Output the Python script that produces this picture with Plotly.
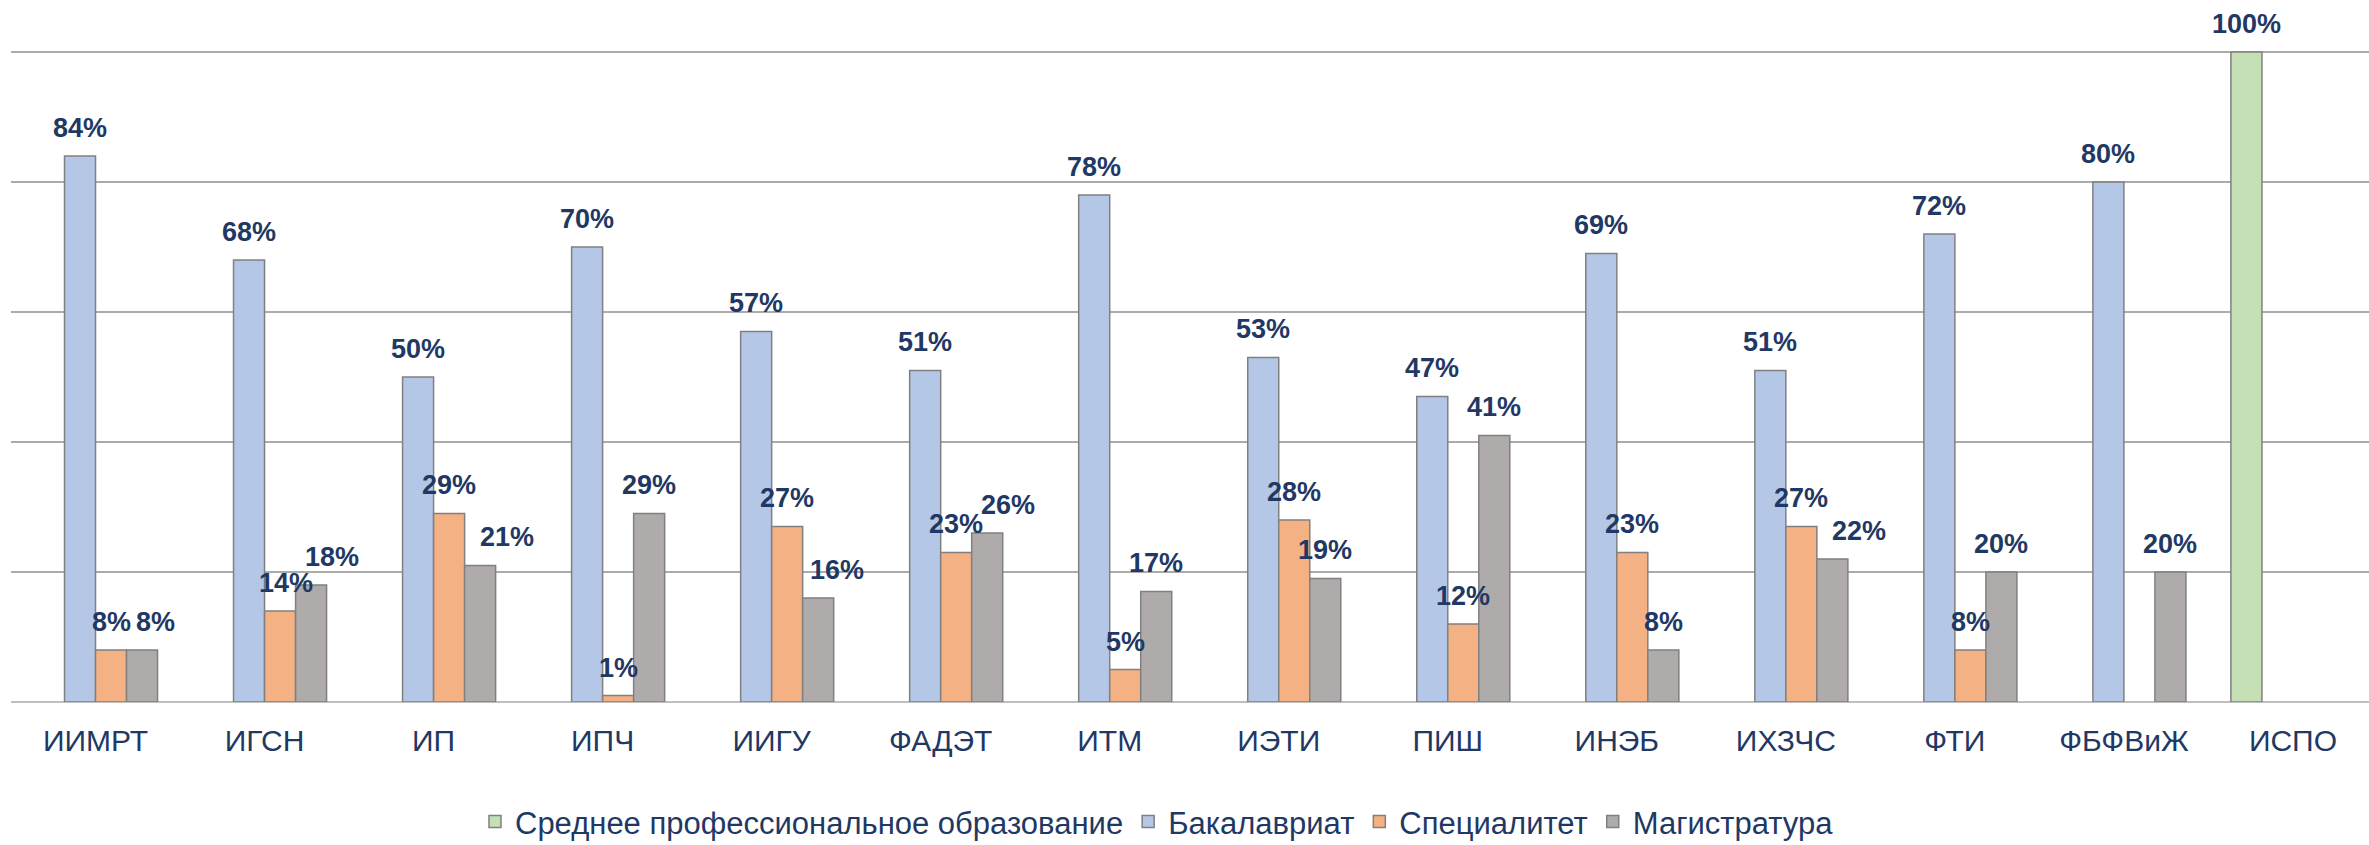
import plotly.graph_objects as go

categories = ["ИИМРТ", "ИГСН", "ИП", "ИПЧ", "ИИГУ", "ФАДЭТ", "ИТМ", "ИЭТИ", "ПИШ",
              "ИНЭБ", "ИХЗЧС", "ФТИ", "ФБФВиЖ", "ИСПО"]
spo = [None, None, None, None, None, None, None, None, None, None, None, None, None, 1.00]
bakalavriat = [0.84, 0.68, 0.50, 0.70, 0.57, 0.51, 0.78, 0.53, 0.47, 0.69, 0.51, 0.72, 0.80, None]
specialitet = [0.08, 0.14, 0.29, 0.01, 0.27, 0.23, 0.05, 0.28, 0.12, 0.23, 0.27, 0.08, None, None]
magistratura = [0.08, 0.18, 0.21, 0.29, 0.16, 0.26, 0.17, 0.19, 0.41, 0.08, 0.22, 0.20, 0.20, None]

# horizontal nudges (px) of some value labels, as placed in the original
label_nudge_spec = [0, 6, 0, 0, 0, 0, 0, 0, 0, 0, 0, 0, 0, 0]
label_nudge_mag = [13, 21, 27, 0, 19, 21, 0, 0, 0, 0, 27, 0, 0, 0]

series = [
    ("Среднее профессиональное образование", spo, "#C5E0B4", None),
    ("Бакалавриат", bakalavriat, "#B4C7E7", None),
    ("Специалитет", specialitet, "#F4B183", label_nudge_spec),
    ("Магистратура", magistratura, "#AFABAB", label_nudge_mag),
]

FONT = "Arial, Liberation Sans, sans-serif"
NAVY = "#1F3864"
BARGAP = 0.266
NS = len(series)

fig = go.Figure()
annotations = []
for i, (name, vals, color, nudge) in enumerate(series):
    fig.add_trace(go.Bar(
        name=name, x=categories, y=vals,
        marker=dict(color=color, line=dict(color="#808080", width=1.5)),
    ))
    slot = (i - (NS - 1) / 2) * (1 - BARGAP) / NS
    for j, v in enumerate(vals):
        if v is None:
            continue
        annotations.append(dict(
            x=j + slot, y=v, xref="x", yref="y", text=f"{round(v * 100)}%",
            showarrow=False, yanchor="bottom", xanchor="center",
            xshift=(nudge[j] if nudge else 0), yshift=11,
            font=dict(family=FONT, size=27, color=NAVY, weight="bold"),
        ))

fig.update_layout(
    width=2369, height=845,
    margin=dict(l=11, r=0, t=50, b=143, autoexpand=False),
    paper_bgcolor="white", plot_bgcolor="white",
    barmode="group", bargap=BARGAP, bargroupgap=0,
    font=dict(family=FONT, color=NAVY),
    showlegend=True,
    annotations=annotations,
    legend=dict(orientation="h", x=0.486, xanchor="center", y=-0.184, yanchor="middle",
                font=dict(family=FONT, size=31, color=NAVY),
                traceorder="normal"),
    xaxis=dict(range=[-0.5, 13.45], showline=False, ticks="",
               tickfont=dict(family=FONT, size=30, color=NAVY), ticklabelstandoff=18),
    yaxis=dict(range=[0, 1.003], tickvals=[0, 0.2, 0.4, 0.6, 0.8, 1.0],
               showticklabels=False, showgrid=True,
               gridcolor="#ABABAB", gridwidth=1.5, zeroline=True, zerolinecolor="#BFBFBF",
               zerolinewidth=2, showline=False),
)

fig.write_html(
    "out.html",
    config={"displayModeBar": False},
    post_script="document.body.style.margin='0';document.body.style.overflow='hidden';",
)
